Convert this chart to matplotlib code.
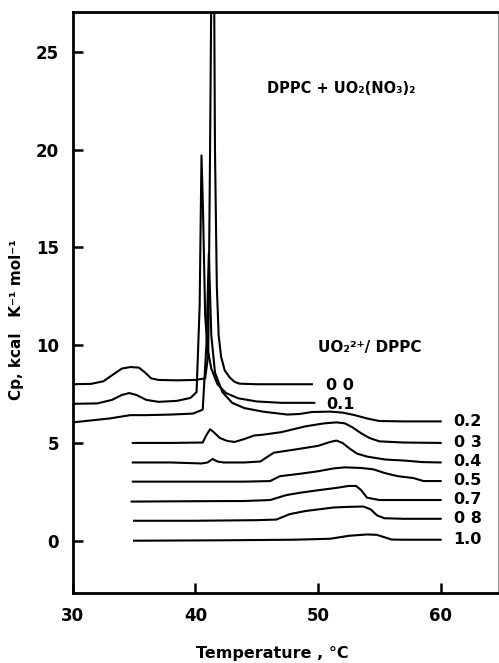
import numpy as np
import matplotlib
matplotlib.use("Agg")
import matplotlib.pyplot as plt

plt.rcParams['font.family'] = ['DejaVu Sans']
plt.rcParams['font.weight'] = 'bold'

# DSC traces, offset per UO2/DPPC ratio
x_00 = [30, 31.5, 32.5, 33.3, 34.0, 34.7, 35.4, 35.9, 36.4, 37.0, 38.5, 40.0, 40.8, 41.05, 41.2, 41.35, 41.5, 41.6, 41.75, 41.9, 42.1, 42.4, 42.8, 43.2, 43.6, 45, 49.5]
y_00 = [8.0, 8.02, 8.15, 8.5, 8.8, 8.88, 8.85, 8.6, 8.3, 8.22, 8.2, 8.22, 8.3, 9.5, 20.0, 32.0, 32.0, 20.0, 13.0, 10.5, 9.4, 8.7, 8.35, 8.12, 8.03, 8.0, 8.0]

x_01 = [30, 32.0, 33.2, 34.0, 34.6, 35.2, 36.0, 37.0, 38.5, 39.6, 40.1, 40.35, 40.5, 40.62, 40.8, 41.0, 41.3, 41.8, 42.5, 43.5, 45.0, 47.0, 49.7]
y_01 = [7.0, 7.02, 7.2, 7.45, 7.55, 7.45, 7.2, 7.1, 7.15, 7.3, 7.6, 12.0, 19.7, 17.0, 11.5, 9.8, 8.8, 8.0, 7.55, 7.28, 7.12, 7.05, 7.05]

x_02 = [30, 31.5, 33.0, 34.0, 34.7, 36.0, 38.0, 39.8, 40.6, 40.9, 41.1, 41.3, 41.6, 42.2, 43.0, 44.0, 45.5, 47.5, 48.5, 49.5, 51.0, 52.0, 53.0, 54.0, 55.0, 57.0, 60.0]
y_02 = [6.05, 6.15, 6.25, 6.35, 6.42, 6.42, 6.45, 6.5, 6.7, 10.0, 14.7, 10.5, 8.6, 7.6, 7.05, 6.78, 6.6, 6.45, 6.48, 6.58, 6.6, 6.55, 6.42, 6.25, 6.12, 6.1, 6.1]

x_03 = [34.9, 38.0, 40.6, 40.9, 41.2, 41.5, 42.0, 42.6, 43.2, 44.0, 44.8, 45.5, 47.0, 49.0, 50.5, 51.5, 52.2, 52.8, 53.5, 54.2, 55.0, 57.0, 60.0]
y_03 = [5.0, 5.0, 5.02, 5.4, 5.7, 5.55, 5.25, 5.1, 5.05, 5.2, 5.38, 5.42, 5.55, 5.85, 6.0, 6.05, 6.0, 5.8, 5.5, 5.25, 5.08, 5.02, 5.0]

x_04 = [34.9, 38.0, 40.5, 41.0, 41.4, 41.8, 42.3, 44.0, 45.3, 45.9, 46.4, 48.0, 50.0, 51.0, 51.5, 52.0, 52.6, 53.2, 54.0, 55.5, 57.0, 58.5, 60.0]
y_04 = [4.0, 4.0, 3.95, 4.0, 4.18, 4.05, 4.0, 4.0, 4.05, 4.3, 4.5, 4.65, 4.85, 5.05, 5.12, 5.0, 4.7, 4.45, 4.3, 4.15, 4.1, 4.02, 4.0]

x_05 = [34.9, 40.0, 44.0, 46.1, 46.9, 48.5, 50.0, 51.3, 52.2, 53.5, 54.5, 55.5, 56.5, 57.8, 58.6, 60.0]
y_05 = [3.02, 3.02, 3.02, 3.05, 3.3, 3.42, 3.55, 3.7, 3.75, 3.72, 3.65, 3.45, 3.3, 3.2, 3.05, 3.05]

x_07 = [34.8, 40.0, 44.0, 46.1, 47.4, 48.5, 50.0, 51.5, 52.5, 53.1, 53.5, 54.0, 55.0, 60.0]
y_07 = [2.0, 2.02, 2.03, 2.08, 2.33, 2.45, 2.58, 2.7, 2.8, 2.8, 2.6, 2.2, 2.08, 2.08]

x_08 = [35.0, 40.0, 45.0, 46.6, 47.7, 49.0, 51.3, 52.5, 53.7, 54.3, 54.8, 55.4, 57.0, 60.0]
y_08 = [1.02, 1.02, 1.05, 1.08, 1.36, 1.52, 1.7, 1.73, 1.75, 1.6, 1.3, 1.15, 1.12, 1.12]

x_10 = [35.0, 42.0, 48.0, 51.0, 52.5, 54.0, 54.8, 55.4, 56.0, 57.0, 60.0]
y_10 = [0.0, 0.02, 0.05, 0.1, 0.25, 0.32, 0.3, 0.18, 0.06, 0.05, 0.05]

curves = [(x_00, y_00), (x_01, y_01), (x_02, y_02), (x_03, y_03), (x_04, y_04),
          (x_05, y_05), (x_07, y_07), (x_08, y_08), (x_10, y_10)]

ratio_labels = ['0 0', '0.1', '0.2', '0 3', '0.4', '0.5', '0.7', '0 8', '1.0']
label_x = [51.8, 51.8, 62.2, 62.2, 62.2, 62.2, 62.2, 62.2, 62.2]
label_y = [7.95, 6.95, 6.1, 5.03, 4.07, 3.1, 2.12, 1.15, 0.07]

fig = plt.figure(figsize=(4.99, 6.63), dpi=100)
ax = fig.add_axes([0.1457, 0.1051, 0.8529, 0.8773])

for xs, ys in curves:
    ax.plot(xs, ys, color='black', lw=1.5, solid_joinstyle='round')

for t, lx, ly in zip(ratio_labels, label_x, label_y):
    ax.text(lx, ly, t, ha='center', va='center', fontsize=11.5, fontweight='bold')

ax.text(54.2, 9.9, 'UO\u2082\u00b2\u207a/ DPPC', ha='center', va='center', fontsize=11, fontweight='bold')
ax.text(51.9, 23.1, 'DPPC + UO\u2082(NO\u2083)\u2082', ha='center', va='center', fontsize=10.5, fontweight='bold')

ax.set_xlim(30, 64.7)
ax.set_ylim(-2.69, 27.05)
ax.set_xticks([30, 40, 50, 60])
ax.set_yticks([0, 5, 10, 15, 20, 25])
ax.tick_params(direction='in', length=7, width=1.8, labelsize=12, pad=10)
for lab in ax.get_xticklabels() + ax.get_yticklabels():
    lab.set_fontweight('bold')

for s in ['left', 'bottom', 'top']:
    ax.spines[s].set_linewidth(2)
ax.spines['right'].set_linewidth(0.8)
ax.spines['right'].set_color('#999999')

ax.set_xlabel('Temperature , \u00b0C', fontsize=11.5, fontweight='bold')
ax.xaxis.set_label_coords(0.47, -0.09)
ax.set_ylabel('Cp, kcal   K\u207b\u00b9 mol\u207b\u00b9', fontsize=11, fontweight='bold')
ax.yaxis.set_label_coords(-0.115, 0.47)

fig.savefig('out.png', dpi=100)
